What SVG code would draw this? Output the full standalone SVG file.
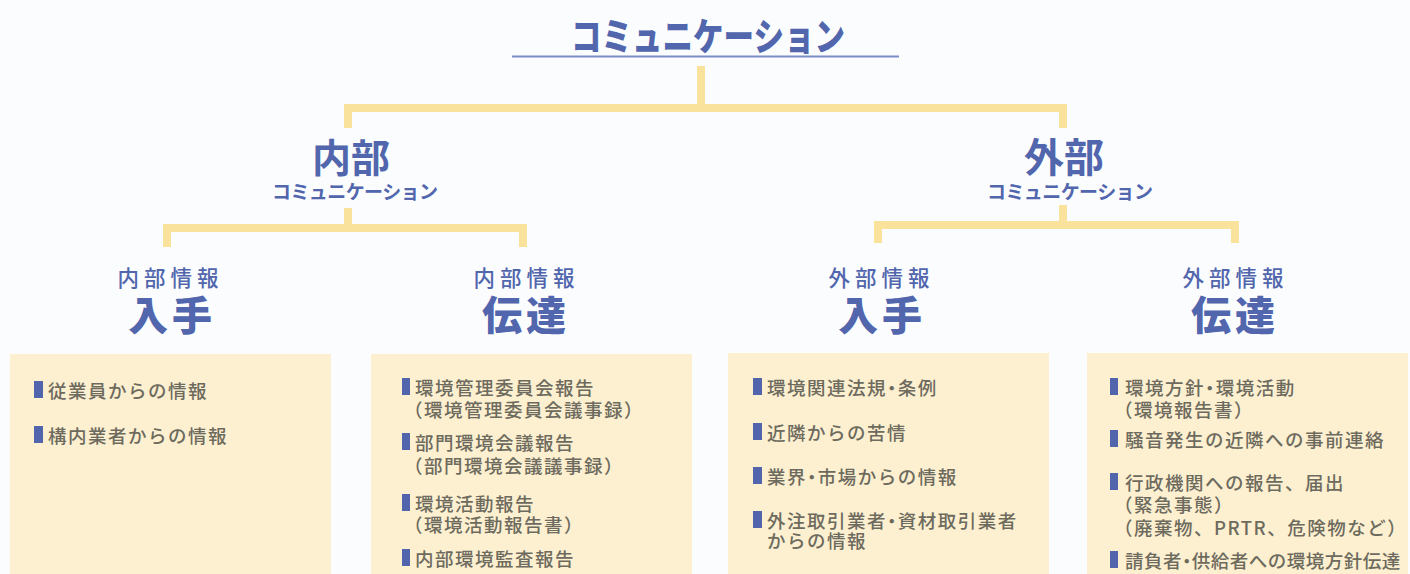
<svg xmlns="http://www.w3.org/2000/svg" width="1410" height="574" viewBox="0 0 1410 574">
<style>
.bg{fill:#fbfcfe}
.conn{fill:none;stroke:#f8e29c;stroke-width:8}
.box{fill:#fdf0d0}
.bul{fill:#5264ab}
.h{font-family:"Noto Sans CJK JP","Noto Sans",sans-serif;fill:#5166ad;text-anchor:middle}
.t{font-family:"Noto Sans CJK JP","Noto Sans",sans-serif;fill:#6d6a5e;font-size:18.5px;font-weight:500;letter-spacing:1.5px}
.hd{font-feature-settings:"halt" 1}
</style>
<rect class="bg" x="0" y="0" width="1410" height="574"/>
<g id="title">
<text class="h" x="708" y="50" font-size="38" font-weight="900" textLength="274" lengthAdjust="spacingAndGlyphs">コミュニケーション</text>
<line x1="512" y1="56.5" x2="899" y2="56.5" stroke="#7d8cc6" stroke-width="2"/>
</g>
<g id="connectors">
<path class="conn" d="M701 66V108M348 128V108H1063V128"/>
<path class="conn" d="M348 208V228M167 247V228H523V247"/>
<path class="conn" d="M1063 205V225M878 243V225H1235V243"/>
</g>
<g id="internal">
<text class="h" x="351" y="172" font-size="39" font-weight="700">内部</text>
<text class="h" x="355" y="199" font-size="19" font-weight="700" textLength="166">コミュニケーション</text>
</g>
<g id="external">
<text class="h" x="1064" y="172" font-size="40" font-weight="700">外部</text>
<text class="h" x="1070" y="199" font-size="19" font-weight="700" textLength="166">コミュニケーション</text>
</g>
<g id="int-in">
<text class="h" x="168" y="286" font-size="21.5" font-weight="500" textLength="101">内部情報</text>
<text class="h" x="170" y="330" font-size="40" font-weight="900" textLength="84">入手</text>
<rect class="box" x="10" y="354" width="321" height="220"/>
<rect class="bul" x="34" y="381" width="9" height="17"/>
<text class="t" x="48" y="398">従業員からの情報</text>
<rect class="bul" x="34" y="426" width="9" height="17"/>
<text class="t" x="48" y="443">構内業者からの情報</text>
</g>
<g id="int-out">
<text class="h" x="524" y="286" font-size="21.5" font-weight="500" textLength="101">内部情報</text>
<text class="h" x="524" y="330" font-size="40" font-weight="900" textLength="84">伝達</text>
<rect class="box" x="371" y="354" width="321" height="220"/>
<rect class="bul" x="402" y="378" width="8" height="17"/>
<text class="t" x="415" y="395">環境管理委員会報告</text>
<text class="t" x="404" y="417">（環境管理委員会議事録）</text>
<rect class="bul" x="402" y="433" width="8" height="17"/>
<text class="t" x="415" y="450">部門環境会議報告</text>
<text class="t" x="404" y="473">（部門環境会議議事録）</text>
<rect class="bul" x="402" y="494" width="8" height="17"/>
<text class="t" x="415" y="511">環境活動報告</text>
<text class="t" x="404" y="532">（環境活動報告書）</text>
<rect class="bul" x="402" y="549" width="8" height="17"/>
<text class="t" x="415" y="566">内部環境監査報告</text>
</g>
<g id="ext-in">
<text class="h" x="879" y="286" font-size="21.5" font-weight="500" textLength="101">外部情報</text>
<text class="h" x="880" y="330" font-size="40" font-weight="900" textLength="84">入手</text>
<rect class="box" x="728" y="353" width="321" height="221"/>
<rect class="bul" x="753" y="378" width="9" height="17"/>
<text class="t hd" x="767" y="395">環境関連法規・条例</text>
<rect class="bul" x="753" y="423" width="9" height="17"/>
<text class="t" x="767" y="440">近隣からの苦情</text>
<rect class="bul" x="753" y="467" width="9" height="17"/>
<text class="t hd" x="767" y="484">業界・市場からの情報</text>
<rect class="bul" x="753" y="511" width="9" height="17"/>
<text class="t hd" x="767" y="528">外注取引業者・資材取引業者</text>
<text class="t" x="767" y="548">からの情報</text>
</g>
<g id="ext-out">
<text class="h" x="1233" y="286" font-size="21.5" font-weight="500" textLength="101">外部情報</text>
<text class="h" x="1233" y="330" font-size="40" font-weight="900" textLength="84">伝達</text>
<rect class="box" x="1087" y="353" width="321" height="221"/>
<rect class="bul" x="1110" y="378" width="8" height="17"/>
<text class="t hd" x="1125" y="395">環境方針・環境活動</text>
<text class="t" x="1114" y="417">（環境報告書）</text>
<rect class="bul" x="1110" y="430" width="8" height="17"/>
<text class="t" x="1125" y="447">騒音発生の近隣への事前連絡</text>
<rect class="bul" x="1110" y="473" width="8" height="17"/>
<text class="t" x="1125" y="490">行政機関への報告、届出</text>
<text class="t" x="1114" y="512">（緊急事態）</text>
<text class="t" x="1114" y="535">（廃棄物、PRTR、危険物など）</text>
<rect class="bul" x="1110" y="551" width="8" height="17"/>
<text class="t hd" x="1125" y="568" style="letter-spacing:0.5px">請負者・供給者への環境方針伝達</text>
</g>
</svg>
